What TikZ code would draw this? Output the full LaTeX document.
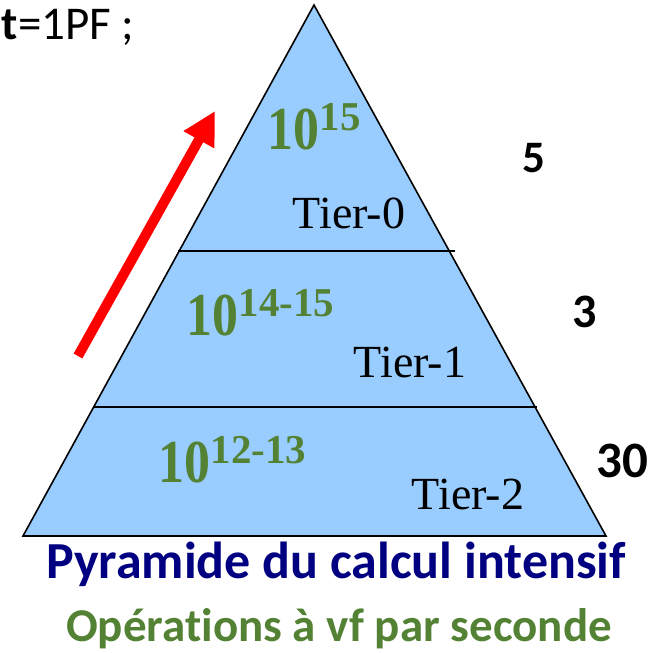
\documentclass[tikz,border=0pt]{standalone}
\usepackage{fontspec}
\setmainfont{Liberation Serif}
\newfontfamily\calibri[Ligatures={NoCommon}]{Carlito}
\usepackage{graphicx}
\usetikzlibrary{arrows.meta}
\definecolor{mPyrFill}{HTML}{99CCFF}
\definecolor{mOpsGreen}{HTML}{548235}
\definecolor{mTitleNavy}{HTML}{000080}
\newcommand{\flopsof}[1]{{\fontsize{61}{61}\selectfont\scalebox{0.85}[1]{10}}\raisebox{19pt}{\fontsize{41}{41}\selectfont #1}}

\begin{document}
\begin{tikzpicture}[x=1pt, y=-1pt, line width=1.6pt,
  tierlabel/.style={inner sep=0pt, anchor=base, font=\fontsize{46}{46}\selectfont},
  flopslabel/.style={inner sep=0pt, anchor=base west, text=mOpsGreen, font=\bfseries},
  countlabel/.style={inner sep=0pt, anchor=base, font=\calibri\bfseries}]
\useasboundingbox (0,0) rectangle (659,653);
% pyramid corners and tier separators
\coordinate (apex) at (314,5);
\coordinate (bl) at (23,536);
\coordinate (br) at (606,536);
\coordinate (sep0l) at (178,251);
\coordinate (sep0r) at (455,251);
\coordinate (sep1l) at (93,407);
\coordinate (sep1r) at (537,407);
\draw[fill=mPyrFill, line join=miter] (apex) -- (br) -- (bl) -- cycle;
\draw (sep0l) -- (sep0r);
\draw (sep1l) -- (sep1r);
% power per tier
\node[flopslabel] (f0) at (267,149) {\flopsof{15}};
\node[flopslabel] (f1) at (186,335) {\flopsof{14-15}};
\node[flopslabel] (f2) at (158,482) {\flopsof{12-13}};
\node[tierlabel] (t0) at (349,228) {Tier-0};
\node[tierlabel] (t1) at (410,377) {Tier-1};
\node[tierlabel] (t2) at (468,509) {Tier-2};
% number of centres
\node[countlabel, font=\calibri\bfseries\fontsize{45}{45}\selectfont] (n0) at (534,172) {5};
\node[countlabel, font=\calibri\bfseries\fontsize{48}{48}\selectfont] (n1) at (585,327) {3};
\node[countlabel, font=\calibri\bfseries\fontsize{51}{51}\selectfont] (n2) at (622,477) {30};
\node[inner sep=0pt, anchor=base west, font=\calibri\fontsize{47}{47}\selectfont] (unit) at (1,39) {{\bfseries t}=1PF ;};
% growth arrow
\coordinate (arrs) at (78,356);
\coordinate (arre) at (215,111);
\draw[-{Triangle[length=33pt,width=33pt]}, red, line width=10pt] (arrs) -- (arre);
% captions
\node[inner sep=0pt, anchor=base, text=mTitleNavy, font=\calibri\bfseries\fontsize{52}{52}\selectfont] (title) at (336,578) {Pyramide du calcul intensif};
\node[inner sep=0pt, anchor=base, text=mOpsGreen, font=\calibri\bfseries\fontsize{47}{47}\selectfont] (sub) at (339,641) {Opérations à vf par seconde};
\end{tikzpicture}
\end{document}
